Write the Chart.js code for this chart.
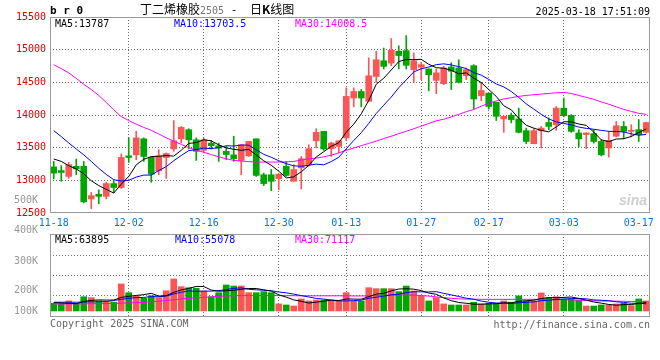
<!DOCTYPE html>
<html>
<head>
<meta charset="utf-8">
<script src="https://cdn.jsdelivr.net/npm/chart.js@4.4.1/dist/chart.umd.min.js"></script>
<style>
  body { margin: 0; background: #fff; }
  #box { position: relative; width: 660px; height: 360px; overflow: hidden; font-family: "DejaVu Sans Mono", monospace; font-size: 10px; }
  canvas { position: absolute; left: 0; }
  #kline { top: 0; }
  #vol { top: 195px; }
  .t { position: absolute; line-height: 12px; white-space: pre; }
  .cn { font-family: "Noto Sans CJK SC", sans-serif; font-size: 12px; color: #000; }
</style>
</head>
<body>
<div id="box">
  <canvas id="kline" width="660" height="232"></canvas>
  <canvas id="vol" width="660" height="135"></canvas>

  <div class="t" style="left:50px;top:5px;font-weight:bold;font-size:11px;">b r 0</div>
  <div class="t cn" style="left:140px;top:3px;">丁二烯橡胶<span style="font-family:'DejaVu Sans Mono';font-size:10px;color:#777;">2505</span></div>
  <div class="t cn" style="left:232px;top:3px;">-</div>
  <div class="t cn" style="left:250px;top:3px;">日<b>K</b>线图</div>
  <div class="t" style="right:10px;top:6px;color:#000;">2025-03-18 17:51:09</div>

  <div class="t" style="left:55px;top:18px;color:#000;">MA5:13787</div>
  <div class="t" style="left:174px;top:18px;color:#0000ff;">MA10:13703.5</div>
  <div class="t" style="left:295px;top:18px;color:#ff00ff;">MA30:14008.5</div>

  <div class="t" style="left:55px;top:234px;color:#000;">MA5:63895</div>
  <div class="t" style="left:175px;top:234px;color:#0000ff;">MA10:55078</div>
  <div class="t" style="left:295px;top:234px;color:#ff00ff;">MA30:71117</div>

  <div class="t" style="left:619px;top:192px;font:italic bold 14px 'Liberation Sans';color:#cfcfcf;">sina</div>

  <div class="t" style="left:50px;top:318px;color:#666;">Copyright 2025 SINA.COM</div>
  <div class="t" style="right:10px;top:319px;color:#666;">http://finance.sina.com.cn</div>
</div>

<script>
const dates = ['11-18','11-19','11-20','11-21','11-22','11-25','11-26','11-27','11-28','11-29',
  '12-02','12-03','12-04','12-05','12-06','12-09','12-10','12-11','12-12','12-13',
  '12-16','12-17','12-18','12-19','12-20','12-23','12-24','12-25','12-26','12-27',
  '12-30','12-31','01-02','01-03','01-06','01-07','01-08','01-09','01-10',
  '01-13','01-14','01-15','01-16','01-17','01-20','01-21','01-22','01-23','01-24',
  '01-27','02-05','02-06','02-07','02-10','02-11','02-12','02-13','02-14',
  '02-17','02-18','02-19','02-20','02-21','02-24','02-25','02-26','02-27','02-28',
  '03-03','03-04','03-05','03-06','03-07','03-10','03-11','03-12','03-13','03-14',
  '03-17','03-18'];

const tickDates = ['11-18','12-02','12-16','12-30','01-13','01-27','02-17','03-03','03-17'];
const gridDates = ['12-02','12-16','12-30','01-13','01-27','02-17','03-03'];

const opens = [13205,13150,13060,13215,13215,12715,12785,12755,12950,12890,
  13375,13390,13635,13355,13145,13350,13480,13635,13775,13620,
  13460,13570,13530,13445,13390,13305,13375,13635,13085,13085,
  13025,13215,12985,13190,13240,13605,13750,13485,13520,13650,
  14260,14360,14210,14590,14830,14795,14975,14985,14695,14730,
  14705,14530,14480,14735,14720,14600,14755,14295,14335,14195,
  13940,13995,13940,13760,13560,13760,13885,13850,14105,13995,
  13725,13700,13715,13595,13495,13675,13825,13750,13775,13735];

const highs = [13290,13225,13275,13325,13290,12815,12855,12970,12995,13405,
  13650,13750,13650,13355,13470,13420,13915,13825,13790,13650,
  13650,13610,13570,13520,13675,13545,13595,13635,13110,13165,
  13095,13290,13240,13365,13545,13790,13750,13585,13605,14415,
  14415,14390,14875,14975,15025,15170,15060,15215,14950,14805,
  14705,14705,14745,14800,14845,14720,14770,14500,14335,14195,
  13980,14030,14105,13800,13790,13825,13955,14130,14260,14005,
  13775,13725,13775,13620,13750,13900,13900,13850,13930,13890];

const lows = [13020,12985,13030,13085,12655,12565,12640,12715,12815,12875,
  13275,13315,13290,12970,13085,13030,13445,13570,13480,13305,
  13420,13480,13290,13315,13290,13085,13365,13060,12920,12840,
  12855,13060,12985,12865,13215,13495,13460,13365,13420,13605,
  14125,14125,14210,14500,14705,14755,14705,14705,14500,14540,
  14370,14325,14465,14390,14490,14540,14090,14220,14090,13915,
  13735,13880,13725,13560,13560,13495,13775,13765,13970,13735,
  13510,13485,13570,13375,13355,13665,13635,13665,13595,13725];

const closes = [13110,13120,13240,13175,12670,12765,12755,12950,12890,13350,
  13350,13650,13365,13095,13375,13410,13605,13810,13620,13445,
  13620,13530,13495,13395,13330,13545,13595,13075,12950,12985,
  13095,13075,13165,13330,13485,13735,13480,13570,13605,14285,
  14360,14260,14600,14845,14745,14990,14910,14760,14830,14770,
  14615,14645,14720,14670,14500,14695,14245,14375,14130,13980,
  13980,13930,13735,13595,13760,13800,13825,14105,13990,13750,
  13635,13725,13595,13390,13610,13835,13750,13765,13700,13885];

const ma5 = [13327,13290,13224,13174,13100,12993,12920,12862,12805,12942,
  13059,13238,13322,13363,13368,13379,13371,13460,13565,13578,
  13621,13605,13542,13497,13475,13460,13473,13389,13299,13230,
  13140,13036,13054,13130,13230,13358,13438,13520,13575,13736,
  13861,14017,14223,14471,14563,14689,14818,14850,14847,14852,
  14777,14724,14716,14684,14630,14645,14565,14497,14390,14285,
  14142,14079,13950,13843,13799,13764,13743,13818,13897,13895,
  13862,13841,13739,13620,13592,13632,13637,13671,13732,13787];

const ma10 = [13760,13670,13572,13480,13390,13290,13185,13090,13010,12990,
  13000,13050,13080,13080,13150,13210,13300,13380,13455,13470,
  13495,13485,13500,13530,13525,13540,13538,13466,13398,13353,
  13300,13255,13222,13215,13230,13249,13237,13287,13353,13483,
  13610,13728,13872,14023,14150,14275,14418,14537,14659,14708,
  14733,14771,14783,14766,14741,14711,14650,14610,14545,14475,
  14430,14360,14270,14170,14090,14010,13940,13895,13870,13850,
  13815,13795,13782,13765,13750,13748,13740,13712,13690,13703.5];

const ma30 = [14770,14710,14645,14560,14470,14390,14300,14190,14080,13975,
  13915,13860,13810,13765,13710,13650,13600,13550,13500,13460,
  13430,13395,13360,13330,13305,13295,13285,13280,13280,13280,
  13280,13282,13290,13310,13330,13340,13360,13385,13420,13460,
  13495,13530,13565,13600,13640,13675,13715,13750,13790,13830,
  13870,13910,13935,13970,14010,14050,14085,14135,14180,14215,
  14245,14265,14285,14300,14310,14320,14330,14340,14345,14330,
  14300,14270,14240,14200,14165,14125,14085,14055,14025,14008.5];

const volumes = [59000,59000,77000,59000,109000,102000,77000,67000,67000,207000,
  140000,115000,97000,117000,102000,155000,245000,186000,178000,174000,
  153000,109000,140000,199000,191000,191000,140000,140000,148000,140000,
  54000,46000,38000,92000,77000,84000,84000,77000,77000,140000,
  77000,77000,178000,171000,171000,171000,148000,191000,153000,115000,
  77000,102000,54000,46000,46000,46000,67000,54000,59000,54000,
  77000,67000,115000,77000,77000,138000,102000,109000,92000,92000,
  84000,38000,38000,46000,46000,54000,59000,41000,92000,77000];

const volMa5 = [64000,62000,58000,56000,73000,81000,85000,83000,84000,104000,
  112000,119000,125000,135000,114000,117000,143000,161000,173000,188000,
  187000,160000,151000,155000,158000,166000,172000,172000,162000,152000,
  124000,106000,85000,74000,61000,67000,75000,83000,80000,92000,
  91000,90000,110000,129000,135000,154000,168000,170000,167000,156000,
  137000,128000,100000,79000,65000,59000,52000,52000,54000,56000,
  62000,62000,74000,78000,83000,95000,102000,101000,104000,107000,
  96000,83000,69000,60000,50000,44000,49000,49000,58000,63895];

const volMa10 = [67000,67000,67000,67000,68000,70000,71000,72000,80000,89000,
  97000,102000,104000,110000,109000,115000,131000,143000,154000,151000,
  152000,152000,156000,164000,173000,177000,166000,162000,159000,155000,
  145000,139000,129000,118000,107000,96000,91000,84000,77000,77000,
  79000,83000,97000,105000,114000,123000,129000,140000,148000,146000,
  146000,148000,135000,123000,111000,98000,90000,76000,67000,61000,
  61000,57000,63000,66000,70000,79000,82000,88000,91000,95000,
  96000,93000,85000,82000,79000,70000,66000,59000,59000,55078];

const volMa30 = [54000,54000,55000,55000,55000,56000,56000,57000,58000,60000,
  62000,64000,66000,70000,75000,80000,86000,92000,97000,101000,
  104000,108000,112000,115000,117000,118000,118000,118000,118000,118000,
  118000,117000,117000,116000,116000,116000,116000,116000,116000,116000,
  115000,115000,116000,118000,120000,122000,122000,122000,121000,118000,
  114000,108000,102000,97000,93000,91000,90000,89000,89000,89000,
  89000,89000,89000,89000,89000,89000,88000,88000,87000,85000,
  82000,80000,78000,77000,76000,75000,74000,73000,72000,71117];

const volTickLabels = ['100K','200K','300K','400K','500K'];

const UP = '#fa5656';
const DOWN = '#00a600';
const GRID = '#6e6e6e';
const dirColor = closes.map((c, i) => c >= opens[i] ? UP : DOWN);

Chart.defaults.font.family = "'DejaVu Sans Mono', monospace";
Chart.defaults.font.size = 10;

// grey box round each plot area
const frame = {
  id: 'frame',
  afterDatasetsDraw(chart) {
    const { ctx, chartArea: a } = chart;
    ctx.save();
    ctx.strokeStyle = '#999';
    ctx.lineWidth = 1;
    ctx.strokeRect(a.left + 0.5, a.top + 0.5, a.width - 1, a.height - 1);
    ctx.restore();
  }
};

const maLine = (data, color) => ({
  type: 'line', data: data, borderColor: color, borderWidth: 1,
  pointRadius: 0, tension: 0, order: 0
});

const xGridColor = ctx => gridDates.includes(dates[ctx.index]) ? GRID : 'rgba(0,0,0,0)';

new Chart(document.getElementById('kline'), {
  type: 'bar',
  data: {
    labels: dates,
    datasets: [
      maLine(ma5, '#000000'),
      maLine(ma10, '#0000ff'),
      maLine(ma30, '#ff00ff'),
      {
        data: opens.map((o, i) => [o, closes[i]]),
        backgroundColor: dirColor,
        barThickness: 6, minBarLength: 1, grouped: false, order: 1
      },
      {
        data: lows.map((l, i) => [l, highs[i]]),
        backgroundColor: dirColor,
        barThickness: 1, grouped: false, order: 2
      }
    ]
  },
  options: {
    responsive: false,
    animation: false,
    layout: { padding: { top: 17, right: 10, left: 0, bottom: 0 } },
    plugins: { legend: { display: false }, tooltip: { enabled: false } },
    scales: {
      x: {
        offset: true,
        grid: { offset: false, color: xGridColor, drawTicks: false },
        border: { display: false, dash: [1, 2] },
        ticks: {
          autoSkip: false, maxRotation: 0, minRotation: 0, padding: 4,
          color: '#0078e6',
          callback: (v, i) => tickDates.includes(dates[i]) ? dates[i] : ''
        },
        afterFit: s => { s.height = 19; }
      },
      y: {
        min: 12500, max: 15500,
        ticks: { stepSize: 500, color: '#e00000', padding: 4, callback: v => String(v) },
        grid: {
          drawTicks: false,
          color: ctx => (ctx.tick && (ctx.tick.value === 12500 || ctx.tick.value === 15500)) ? 'rgba(0,0,0,0)' : GRID
        },
        border: { display: false, dash: [1, 2] },
        afterFit: s => { s.width = 50; }
      }
    }
  },
  plugins: [frame]
});

new Chart(document.getElementById('vol'), {
  type: 'bar',
  data: {
    labels: dates,
    datasets: [
      maLine(volMa5, '#000000'),
      maLine(volMa10, '#0000ff'),
      maLine(volMa30, '#ff00ff'),
      { data: volumes, backgroundColor: dirColor, barThickness: 6, order: 1 }
    ]
  },
  options: {
    responsive: false,
    animation: false,
    layout: { padding: { top: 39, right: 10, left: 0, bottom: 13 } },
    plugins: { legend: { display: false }, tooltip: { enabled: false } },
    scales: {
      x: {
        offset: true,
        grid: { offset: false, color: xGridColor, drawTicks: false },
        border: { display: false, dash: [1, 2] },
        ticks: { display: false },
        afterFit: s => { s.height = 0; }
      },
      y: {
        min: -46000, max: 589000,
        afterBuildTicks: s => { s.ticks = [122000, 275000, 428000].map(v => ({ value: v })); },
        ticks: { display: false },
        grid: { color: GRID, drawTicks: false },
        border: { display: false, dash: [1, 2] },
        afterFit: s => { s.width = 0; }
      },
      yl: {
        position: 'left',
        min: -46000, max: 589000,
        afterBuildTicks: s => { s.ticks = [0, 157000, 383000, 620000, 849000].map(v => ({ value: v })); },
        ticks: { autoSkip: false, color: '#999', padding: 4, callback: (v, i) => volTickLabels[i] },
        grid: { display: false },
        border: { display: false },
        afterFit: s => { s.width = 50; }
      }
    }
  },
  plugins: [frame]
});
</script>
</body>
</html>
